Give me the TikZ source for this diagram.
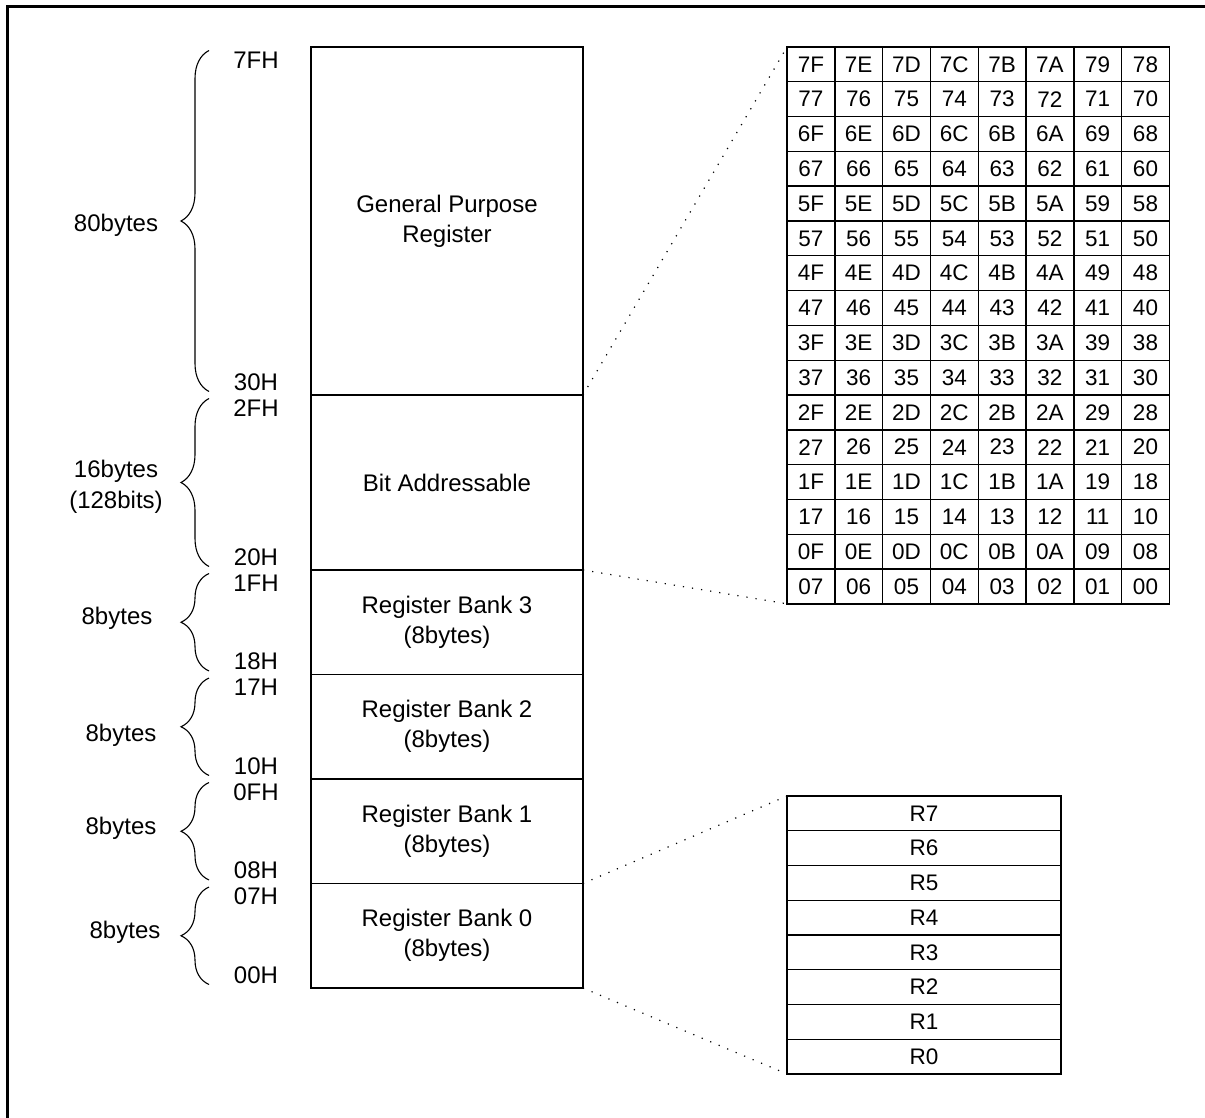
\documentclass[tikz,border=0pt]{standalone}
\usepackage{fontspec}
\setmainfont{Liberation Sans}
\usepackage{tikz}
\usetikzlibrary{positioning}
\usetikzlibrary{calc}
\usetikzlibrary{decorations.pathreplacing}

\begin{document}
\begin{tikzpicture}[x=1pt,y=-1pt,
  sect/.style={draw, line width=1.3pt, minimum width=272pt, inner sep=0pt, outer sep=0pt, align=center, font=\fontsize{24}{30}\selectfont},
  addr/.style={inner sep=0.75pt, font=\fontsize{24}{28}\selectfont},
  sizelbl/.style={inner sep=0.75pt, align=center, font=\fontsize{24}{31}\selectfont},
  brc/.style={decorate, decoration={brace, amplitude=28pt}, line width=1.1pt},
  cell/.style={draw, line width=1.4pt, minimum width=47.8pt, minimum height=34.8pt, inner sep=0pt, outer sep=0pt, font=\fontsize{22.5}{24}\selectfont},
  reg/.style={draw, line width=1.3pt, minimum width=274pt, minimum height=34.75pt, inner sep=0pt, outer sep=0pt, font=\fontsize{22.5}{24}\selectfont},
  zoomln/.style={line width=1.2pt, dash pattern=on 1.2pt off 8pt}]
\useasboundingbox (0,0) rectangle (1205,1118);

%Frame
\draw [line width=2.3pt] (1220,6.5) -- (7.5,6.5) -- (7.5,1130) ;

%Memory map
\node [sect, minimum height=348pt] (gp) at (447,221) {General Purpose\\Register};
\node [sect, minimum height=175pt, below=0pt of gp] (bit) {Bit Addressable};
\node [sect, minimum height=104.5pt, below=0pt of bit] (bk3) {Register Bank 3\\(8bytes)};
\node [sect, minimum height=104.5pt, below=0pt of bk3] (bk2) {Register Bank 2\\(8bytes)};
\node [sect, minimum height=104.5pt, below=0pt of bk2] (bk1) {Register Bank 1\\(8bytes)};
\node [sect, minimum height=104.5pt, below=0pt of bk1] (bk0) {Register Bank 0\\(8bytes)};

%Addresses and braces
\foreach \s/\hi/\lo in {gp/7FH/30H, bit/2FH/20H, bk3/1FH/18H, bk2/17H/10H, bk1/0FH/08H, bk0/07H/00H} {
  \node [addr] (\s-hi) at ($(\s.north west)+(-55,13)$) {\hi};
  \node [addr] (\s-lo) at ($(\s.south west)+(-55,-13)$) {\lo};
  \draw [brc] ($(\s.south west)+(-102,-3.5)$) -- ($(\s.north west)+(-102,3.5)$) ;
}

% Text Node
\foreach \s/\x/\y/\t in {gp/116/225/80bytes, bit/116/487/{16bytes\\(128bits)}, bk3/117/618/8bytes, bk2/121/735/8bytes, bk1/121/828/8bytes, bk0/125/932/8bytes}
  \node [sizelbl] (\s-size) at (\x,\y) {\t};

%Bit addressable area
\foreach \r in {0,...,15}
  \foreach \c in {0,...,7} {
    \pgfmathtruncatemacro\v{127-8*\r-\c}
    \pgfmathparse{Hex(\v)}\let\hx\pgfmathresult
    \node [cell] (b\v) at ({810.9+47.8*\c},{64.4+34.8*\r}) {\ifnum\v<16 0\fi\hx};
  }

%Register bank 0
\foreach \i in {0,...,7}
  \node [reg] (r\i) at (924,{1056.6-34.75*\i}) {R\i};

%Dotted lines
\draw [zoomln] (bit.north east) -- (b127.north west) ;
\draw [zoomln] (bit.south east) -- (b7.south west) ;
\draw [zoomln] (bk0.north east) -- (r7.north west) ;
\draw [zoomln] (bk0.south east) -- (r0.south west) ;

\end{tikzpicture}
\end{document}
